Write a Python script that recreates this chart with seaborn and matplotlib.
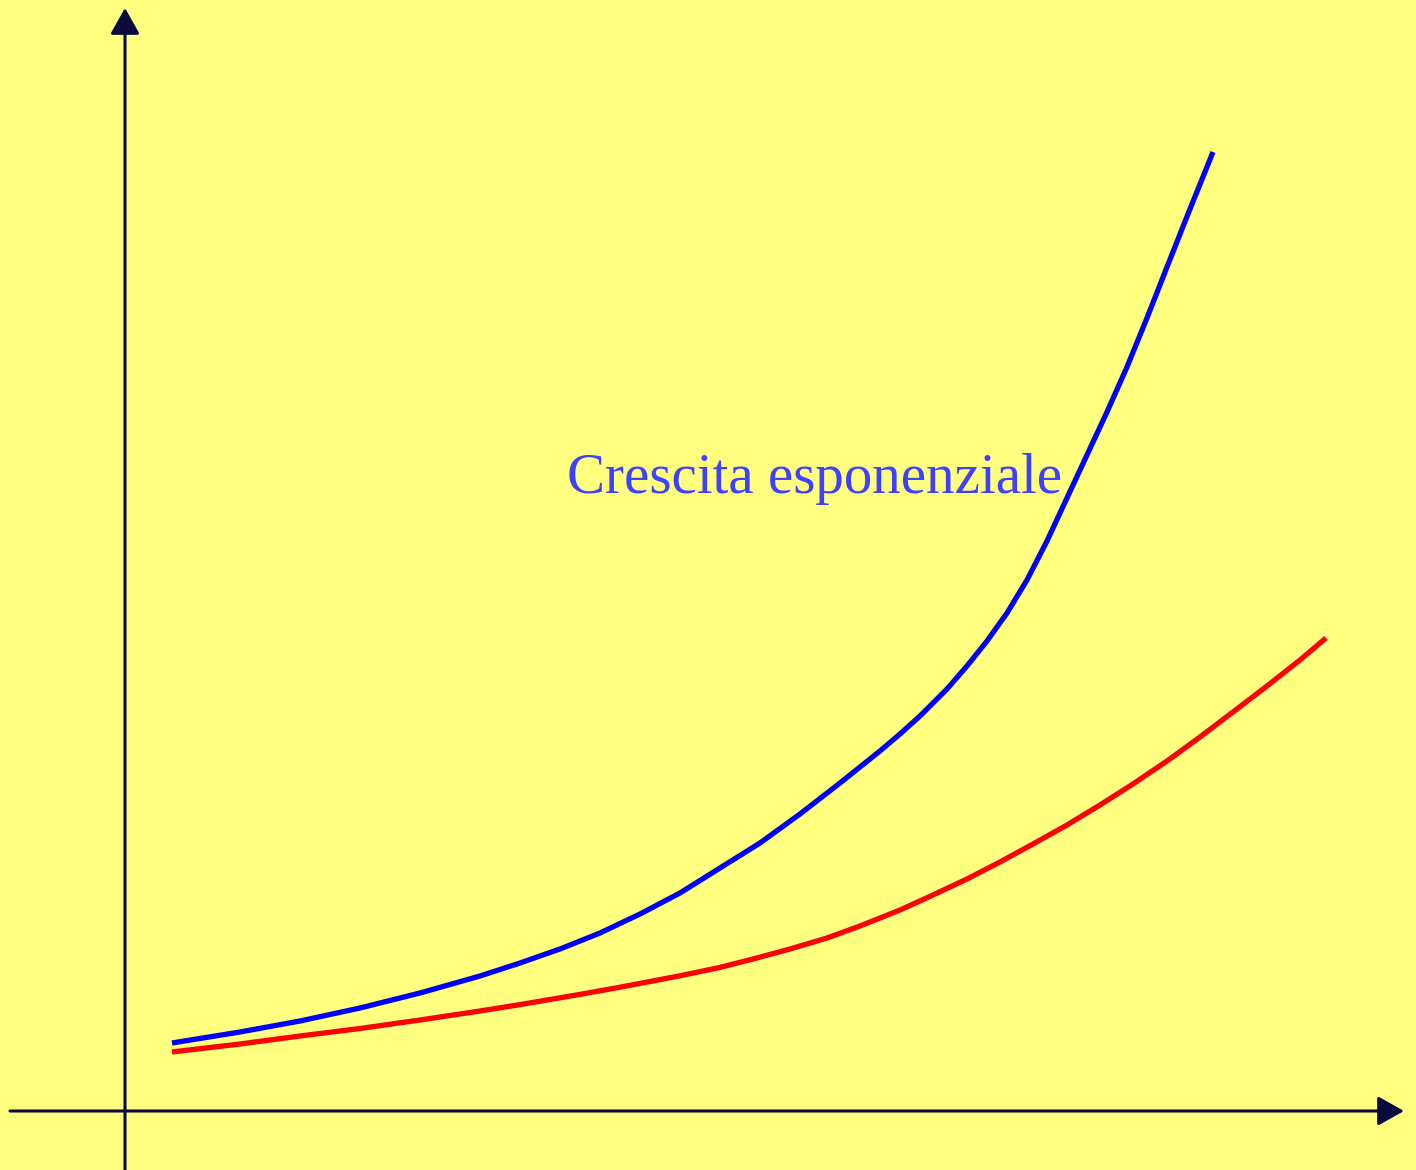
import numpy as np
import pandas as pd
import matplotlib
matplotlib.use("Agg")
import matplotlib.pyplot as plt
import seaborn as sns

# curve samples (arbitrary units, origin at the axes crossing)
blue_x = [0.47, 1.15, 1.75, 2.35, 2.95, 3.55, 3.95, 4.35, 4.75, 5.15, 5.55, 5.95, 6.35, 6.75,
          7.15, 7.55, 7.75, 7.95, 8.22, 8.42, 8.62, 8.82, 9.02, 9.22, 9.42, 9.62, 9.82, 10.02,
          10.22, 10.42, 10.65, 10.88]
blue_y = [0.68, 0.79, 0.90, 1.03, 1.18, 1.35, 1.48, 1.62, 1.78, 1.97, 2.18, 2.43, 2.68, 2.97,
          3.28, 3.60, 3.77, 3.95, 4.22, 4.45, 4.70, 4.98, 5.31, 5.70, 6.13, 6.56, 6.99, 7.44,
          7.93, 8.44, 9.02, 9.59]
red_x = [0.47, 1.15, 1.75, 2.35, 2.95, 3.55, 3.95, 4.55, 4.95, 5.55, 5.95, 6.28, 6.65, 7.02,
         7.35, 7.75, 8.08, 8.42, 8.75, 9.08, 9.42, 9.75, 10.08, 10.42, 10.75, 11.08, 11.42,
         11.75, 12.01]
red_y = [0.59, 0.67, 0.75, 0.825, 0.91, 1.00, 1.064, 1.166, 1.238, 1.352, 1.436, 1.52, 1.62,
         1.73, 1.85, 2.01, 2.16, 2.32, 2.49, 2.67, 2.86, 3.06, 3.27, 3.50, 3.74, 3.99, 4.25,
         4.51, 4.73]
label_text = "Crescita esponenziale"

bg = "#FFFF80"
sns.set_style("white", {"axes.facecolor": bg, "figure.facecolor": bg})

blue = pd.DataFrame({"x": blue_x, "y": blue_y})
red = pd.DataFrame({"x": red_x, "y": red_y})

fig = plt.figure(figsize=(14.16, 11.70), dpi=100)
ax = fig.add_axes([0, 0, 1, 1])
ax.set_xlim(-1.25, 12.91)
ax.set_ylim(-0.59, 11.11)
ax.set_axis_off()

sns.lineplot(data=blue, x="x", y="y", ax=ax, color="#0000FF", linewidth=3.8,
             sort=False, solid_capstyle="butt", solid_joinstyle="round")
sns.lineplot(data=red, x="x", y="y", ax=ax, color="#FF0000", linewidth=3.8,
             sort=False, solid_capstyle="butt", solid_joinstyle="round")

axis_col = "#0A0A3C"
arrow = dict(arrowstyle="-|>,head_length=0.8,head_width=0.45", color=axis_col,
             lw=2.2, mutation_scale=20, shrinkA=0, shrinkB=0)
ax.annotate("", xy=(12.79, 0), xytext=(-1.15, 0), arrowprops=arrow)
ax.annotate("", xy=(0, 11.03), xytext=(0, -0.59), arrowprops=arrow)

ax.text(4.42, 6.18, label_text, color="#4040FF", fontsize=41,
        family="Liberation Serif", va="baseline", ha="left")

fig.savefig("out.png", dpi=100, facecolor=bg)
